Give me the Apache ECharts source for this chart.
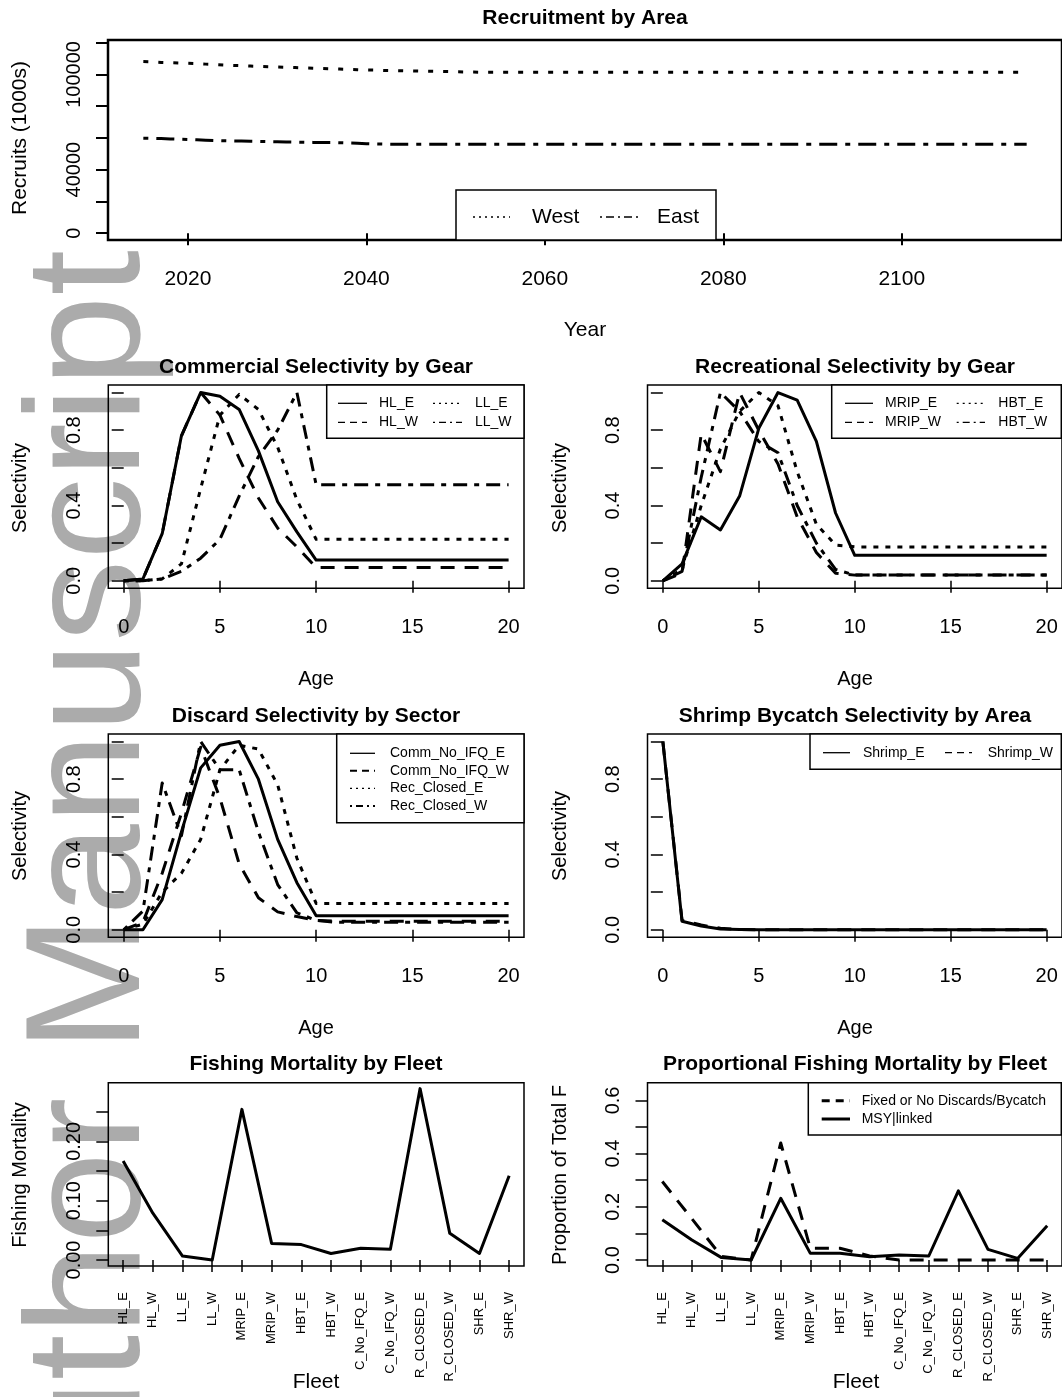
<!DOCTYPE html>
<html><head><meta charset="utf-8">
<script src="https://cdn.jsdelivr.net/npm/echarts@6/dist/echarts.min.js"></script>
<style>html,body{margin:0;padding:0;background:#fff}#c{width:1062px;height:1397px}</style>
</head><body><div id="c"></div>
<script>
// ---------------- DATA ----------------
const years = [2015,2016,2017,2018,2019,2020,2021,2022,2023,2024,2025,2026,2027,2028,2029,2030,2031,2032,2033,2034,
2035,2036,2037,2038,2039,2040,2041,2042,2043,2044,2045,2046,2047,2048,2049,2050,2051,2052,2053,2054,
2055,2056,2057,2058,2059,2060,2061,2062,2063,2064,2065,2066,2067,2068,2069,2070,2071,2072,2073,2074,
2075,2076,2077,2078,2079,2080,2081,2082,2083,2084,2085,2086,2087,2088,2089,2090,2091,2092,2093,2094,
2095,2096,2097,2098,2099,2100,2101,2102,2103,2104,2105,2106,2107,2108,2109,2110,2111,2112,2113,2114];
const recruitWest = [108100,107900,107600,107400,107200,107000,106800,106500,106300,106000,105700,105500,105300,105100,104900,104700,104500,104300,104100,103900,
103700,103500,103400,103200,103000,102800,102700,102500,102400,102300,102200,102100,102000,101900,101800,101700,101600,101500,101400,101400,
101400,101400,101400,101400,101400,101400,101400,101400,101400,101400,101400,101400,101400,101400,101400,101400,101400,101400,101400,101400,
101400,101400,101400,101400,101400,101400,101400,101400,101400,101400,101400,101400,101400,101400,101400,101400,101400,101400,101400,101400,
101400,101400,101400,101400,101400,101400,101400,101400,101400,101400,101400,101400,101400,101400,101400,101400,101400,101400,101400,101400];
const recruitEast = [59800,59700,59600,59400,59200,59000,58800,58600,58400,58200,58100,58000,57900,57800,57700,57600,57500,57400,57300,57200,
57100,57100,57000,56800,56600,56400,56200,56100,56050,56050,56050,56050,56050,56050,56050,56050,56050,56050,56050,56050,
56050,56050,56050,56050,56050,56050,56050,56050,56050,56050,56050,56050,56050,56050,56050,56050,56050,56050,56050,56050,
56050,56050,56050,56050,56050,56050,56050,56050,56050,56050,56050,56050,56050,56050,56050,56050,56050,56050,56050,56050,
56050,56050,56050,56050,56050,56050,56050,56050,56050,56050,56050,56050,56050,56050,56050,56050,56050,56050,56050,56050];
const yearTicks = [2020,2040,2060,2080,2100];
const recruitTicks = [0,20000,40000,60000,80000,100000,120000];
const recruitLabels = [0,40000,100000];

const ages = [0,1,2,3,4,5,6,7,8,9,10,11,12,13,14,15,16,17,18,19,20];
const ageTicks = [0,5,10,15,20];
const selTicks = [0,0.2,0.4,0.6,0.8,1.0];
const selLabels = [0,0.4,0.8];

const selHL_E = [0,0.01,0.25,0.77,1.0,0.98,0.91,0.69,0.42,0.26,0.11,0.11,0.11,0.11,0.11,0.11,0.11,0.11,0.11,0.11,0.11];
const selHL_W = [0,0.01,0.25,0.77,1.0,0.88,0.65,0.44,0.28,0.18,0.07,0.07,0.07,0.07,0.07,0.07,0.07,0.07,0.07,0.07,0.07];
const selLL_E = [0,0,0.01,0.09,0.49,0.88,0.99,0.91,0.71,0.43,0.22,0.22,0.22,0.22,0.22,0.22,0.22,0.22,0.22,0.22,0.22];
const selLL_W = [0,0,0.01,0.05,0.12,0.22,0.45,0.66,0.8,1.0,0.51,0.51,0.51,0.51,0.51,0.51,0.51,0.51,0.51,0.51,0.51];

const selMRIP_E = [0,0.09,0.34,0.27,0.45,0.81,1.0,0.96,0.74,0.36,0.135,0.135,0.135,0.135,0.135,0.135,0.135,0.135,0.135,0.135,0.135];
const selMRIP_W = [0,0.04,0.78,0.58,1.0,0.8,0.62,0.34,0.15,0.04,0.03,0.03,0.03,0.03,0.03,0.03,0.03,0.03,0.03,0.03,0.03];
const selHBT_E = [0,0.06,0.4,0.7,0.9,1.0,0.93,0.58,0.3,0.19,0.18,0.18,0.18,0.18,0.18,0.18,0.18,0.18,0.18,0.18,0.18];
const selHBT_W = [0,0.05,0.55,1.0,0.9,0.74,0.68,0.4,0.2,0.06,0.03,0.03,0.03,0.03,0.03,0.03,0.03,0.03,0.03,0.03,0.03];

const selComm_E = [0,0,0.16,0.52,0.86,0.98,1.0,0.8,0.48,0.25,0.075,0.075,0.075,0.075,0.075,0.075,0.075,0.075,0.075,0.075,0.075];
const selComm_W = [0,0.04,0.3,0.62,0.97,0.7,0.35,0.17,0.095,0.07,0.05,0.045,0.045,0.045,0.045,0.045,0.045,0.045,0.045,0.045,0.045];
const selRec_E = [0,0.03,0.2,0.3,0.48,0.85,0.98,0.96,0.77,0.38,0.14,0.14,0.14,0.14,0.14,0.14,0.14,0.14,0.14,0.14,0.14];
const selRec_W = [0,0.1,0.78,0.5,1.0,0.85,0.85,0.52,0.24,0.09,0.05,0.04,0.04,0.04,0.04,0.04,0.04,0.04,0.04,0.04,0.04];

const selShrimp_E = [1.0,0.045,0.02,0.004,0.001,0,0,0,0,0,0,0,0,0,0,0,0,0,0,0,0];
const selShrimp_W = [1.0,0.05,0.025,0.008,0.002,0,0,0,0,0,0,0,0,0,0,0,0,0,0,0,0];

const fleets = ['HL_E','HL_W','LL_E','LL_W','MRIP_E','MRIP_W','HBT_E','HBT_W','C_No_IFQ_E','C_No_IFQ_W','R_CLOSED_E','R_CLOSED_W','SHR_E','SHR_W'];
const fishingF = [0.167,0.079,0.0067,0.0,0.254,0.028,0.026,0.011,0.020,0.018,0.289,0.045,0.011,0.142];
const fTicks = [0,0.05,0.10,0.15,0.20,0.25];
const fLabels = [0,0.10,0.20];
const propFixed = [0.295,0.155,0.013,0.0,0.44,0.044,0.044,0.015,0.0,0.0,0.0,0.0,0.0,0.0];
const propMSY = [0.151,0.075,0.009,0.0,0.232,0.025,0.025,0.0125,0.019,0.015,0.26,0.04,0.006,0.129];
const pTicks = [0,0.1,0.2,0.3,0.4,0.5,0.6];
const pLabels = [0,0.2,0.4,0.6];

// ---------------- STYLE ----------------
const FONT = '"Liberation Sans", Arial, sans-serif';
const DASH = {solid:'solid', dash:[14,10], dot:[5,7], dotdash:[5,7,14,7]};
const LDASH = {solid:null, dash:[7,5], dot:[2,4], dotdash:[2,4,7,4]};

const chart = echarts.init(document.getElementById('c'), null, {renderer:'canvas'});

const grids = [
  {left:108, top:40, width:956, height:200},
  {left:108.3, top:385, width:415.7, height:203.3},
  {left:647.5, top:385, width:415.5, height:203.3},
  {left:108.3, top:734, width:415.7, height:203.3},
  {left:647.5, top:734, width:415.5, height:203.3},
  {left:108.3, top:1082.7, width:415.7, height:183.3},
  {left:647.5, top:1082.7, width:415.5, height:183.3}
].map((g,i)=>Object.assign(g,{show:true, borderColor:'#000', borderWidth: i===0?2.5:1.5, backgroundColor:'transparent', containLabel:false}));

const f1 = v => v.toFixed(1), f2 = v => v.toFixed(2), f0 = v => String(Math.round(v));

function valX(gi, min, max, ticks, fs, tw){
  return {type:'value', gridIndex:gi, min, max, axisLine:{show:false}, splitLine:{show:false},
    axisTick:{show:true, customValues:ticks, length:12, lineStyle:{color:'#000', width:tw}},
    axisLabel:{customValues:ticks, color:'#000', fontSize:fs, fontFamily:FONT, margin:29, formatter:f0}};
}
function valY(gi, min, max, ticks, labels, fmt, fs, tw){
  return {type:'value', gridIndex:gi, min, max, axisLine:{show:false}, splitLine:{show:false},
    axisTick:{show:true, customValues:ticks, length:12, lineStyle:{color:'#000', width:tw}},
    axisLabel:{customValues:labels, rotate:90, color:'#000', fontSize:fs, fontFamily:FONT, margin:24, formatter:fmt}};
}
function catX(gi){
  return {type:'category', gridIndex:gi, data:fleets, boundaryGap:true, axisLine:{show:false}, splitLine:{show:false},
    axisTick:{show:true, alignWithLabel:true, interval:0, length:12, lineStyle:{color:'#000', width:1.5}},
    axisLabel:{interval:0, rotate:90, color:'#000', fontSize:13, fontFamily:FONT, margin:26}};
}

const xAxes = [
  valX(0, 2011.04, 2117.96, yearTicks, 21, 2),
  valX(1, -0.8, 20.8, ageTicks, 20, 1.5),
  valX(2, -0.8, 20.8, ageTicks, 20, 1.5),
  valX(3, -0.8, 20.8, ageTicks, 20, 1.5),
  valX(4, -0.8, 20.8, ageTicks, 20, 1.5),
  catX(5), catX(6)
];
const yAxes = [
  valY(0, -4300, 121700, recruitTicks, recruitLabels, f0, 20, 2),
  valY(1, -0.04, 1.04, selTicks, selLabels, f1, 20, 1.5),
  valY(2, -0.04, 1.04, selTicks, selLabels, f1, 20, 1.5),
  valY(3, -0.04, 1.04, selTicks, selLabels, f1, 20, 1.5),
  valY(4, -0.04, 1.04, selTicks, selLabels, f1, 20, 1.5),
  valY(5, -0.0101, 0.299, fTicks, fLabels, f2, 20, 1.5),
  valY(6, -0.0226, 0.6667, pTicks, pLabels, f1, 20, 1.5)
];

function ser(name, gi, xs, ys, dash, width){
  return {type:'line', name, xAxisIndex:gi, yAxisIndex:gi,
    data: xs ? xs.map((x,i)=>[x, ys[i]]) : ys,
    showSymbol:false, symbol:'none', silent:true, animation:false, z:3,
    lineStyle:{color:'#000', width:width||3, type:dash, cap:'butt', join:'round'}};
}
const series = [
  ser('West', 0, years, recruitWest, [5,10], 3),
  ser('East', 0, years, recruitEast, [5,8,18,8], 3),
  ser('HL_E', 1, ages, selHL_E, DASH.solid),
  ser('HL_W', 1, ages, selHL_W, DASH.dash),
  ser('LL_E', 1, ages, selLL_E, DASH.dot),
  ser('LL_W', 1, ages, selLL_W, DASH.dotdash),
  ser('MRIP_E', 2, ages, selMRIP_E, DASH.solid),
  ser('MRIP_W', 2, ages, selMRIP_W, DASH.dash),
  ser('HBT_E', 2, ages, selHBT_E, DASH.dot),
  ser('HBT_W', 2, ages, selHBT_W, DASH.dotdash),
  ser('Comm_No_IFQ_E', 3, ages, selComm_E, DASH.solid),
  ser('Comm_No_IFQ_W', 3, ages, selComm_W, DASH.dash),
  ser('Rec_Closed_E', 3, ages, selRec_E, DASH.dot),
  ser('Rec_Closed_W', 3, ages, selRec_W, DASH.dotdash),
  ser('Shrimp_E', 4, ages, selShrimp_E, DASH.solid),
  ser('Shrimp_W', 4, ages, selShrimp_W, DASH.dash),
  ser('Fishing Mortality', 5, null, fishingF, DASH.solid),
  ser('Fixed or No Discards/Bycatch', 6, null, propFixed, DASH.dash),
  ser('MSY|linked', 6, null, propMSY, DASH.solid)
];

// ---------------- TEXT & LEGENDS ----------------
const G = [];
function txt(t, x, y, fs, bold, rot){
  G.push({type:'text', x, y, rotation: rot?Math.PI/2:0, z:60, silent:true,
    style:{text:t, fill:'#000', font:(bold?'bold ':'')+fs+'px '+FONT, textAlign:'center', textVerticalAlign:'middle'}});
}
// watermark
G.push({type:'text', x:94, y:250, rotation:Math.PI/2, z:-10, silent:true,
  style:{text:'Author Manuscript', fill:'#ababab', font:'164px '+FONT, textAlign:'right', textVerticalAlign:'middle'}});

txt('Recruitment by Area', 585, 18, 21, true);
txt('Commercial Selectivity by Gear', 316, 367, 21, true);
txt('Recreational Selectivity by Gear', 855, 367, 21, true);
txt('Discard Selectivity by Sector', 316, 716, 21, true);
txt('Shrimp Bycatch Selectivity by Area', 855, 716, 21, true);
txt('Fishing Mortality by Fleet', 316, 1064, 21, true);
txt('Proportional Fishing Mortality by Fleet', 855, 1064, 21, true);

txt('Recruits (1000s)', 20, 138, 21, false, true);
txt('Year', 585, 330, 21, false);
txt('Selectivity', 20, 488, 20, false, true);
txt('Selectivity', 560, 488, 20, false, true);
txt('Selectivity', 20, 836, 20, false, true);
txt('Selectivity', 560, 836, 20, false, true);
txt('Age', 316, 679, 20, false);
txt('Age', 855, 679, 20, false);
txt('Age', 316, 1028, 20, false);
txt('Age', 855, 1028, 20, false);
txt('Fishing Mortality', 20, 1175, 20, false, true);
txt('Proportion of Total F', 560, 1175, 20, false, true);
txt('Fleet', 316, 1382, 21, false);
txt('Fleet', 856, 1382, 21, false);

function legBox(x1, y1, x2, y2, lw){
  G.push({type:'rect', z:50, silent:true, shape:{x:x1, y:y1, width:x2-x1, height:y2-y1},
    style:{fill:'#fff', stroke:'#000', lineWidth:lw||1.5}});
}
function legItem(lx1, lx2, y, tx, label, dash, fs, lw){
  G.push({type:'line', z:55, silent:true, shape:{x1:lx1, y1:y, x2:lx2, y2:y},
    style:{stroke:'#000', lineWidth:lw||1.3, lineDash:dash}});
  G.push({type:'text', x:tx, y:y, z:55, silent:true,
    style:{text:label, fill:'#000', font:(fs||14)+'px '+FONT, textAlign:'left', textVerticalAlign:'middle'}});
}
// panel 1
legBox(456, 190, 716, 240, 1.5);
legItem(473, 510, 217, 532, 'West', [2,4], 21, 1.3);
legItem(600, 640, 217, 657, 'East', [2,4,8,4], 21, 1.3);
// panel 2
legBox(326.7, 385, 524, 438.3);
legItem(338, 367, 403.3, 379, 'HL_E', LDASH.solid);
legItem(338, 367, 422.3, 379, 'HL_W', LDASH.dash);
legItem(433, 462, 403.3, 475, 'LL_E', LDASH.dot);
legItem(433, 462, 422.3, 475, 'LL_W', LDASH.dotdash);
// panel 3
legBox(831.7, 385, 1061.3, 438.3);
legItem(845, 873, 403.3, 885, 'MRIP_E', LDASH.solid);
legItem(845, 873, 422.3, 885, 'MRIP_W', LDASH.dash);
legItem(956.7, 985, 403.3, 998.3, 'HBT_E', LDASH.dot);
legItem(956.7, 985, 422.3, 998.3, 'HBT_W', LDASH.dotdash);
// panel 4
legBox(336.7, 734, 524, 822.7);
legItem(350, 375, 753.3, 390, 'Comm_No_IFQ_E', LDASH.solid);
legItem(350, 375, 770.7, 390, 'Comm_No_IFQ_W', [7,5], 14, 2);
legItem(350, 375, 788.3, 390, 'Rec_Closed_E', LDASH.dot);
legItem(350, 375, 806, 390, 'Rec_Closed_W', [2,4,7,4], 14, 2);
// panel 5
legBox(810, 734, 1061.3, 769.3);
legItem(823, 850, 752.7, 863, 'Shrimp_E', LDASH.solid);
legItem(945, 972, 752.7, 987.7, 'Shrimp_W', LDASH.dash);
// panel 7
legBox(808.3, 1082.7, 1061.3, 1135);
legItem(821.7, 850, 1100.7, 861.7, 'Fixed or No Discards/Bycatch', [8,6], 14, 3);
legItem(821.7, 850, 1119, 861.7, 'MSY|linked', null, 14, 3);

chart.setOption({
  animation:false,
  backgroundColor:'#fff',
  grid: grids,
  xAxis: xAxes,
  yAxis: yAxes,
  series: series,
  graphic: {elements: G}
});
</script>
</body></html>
